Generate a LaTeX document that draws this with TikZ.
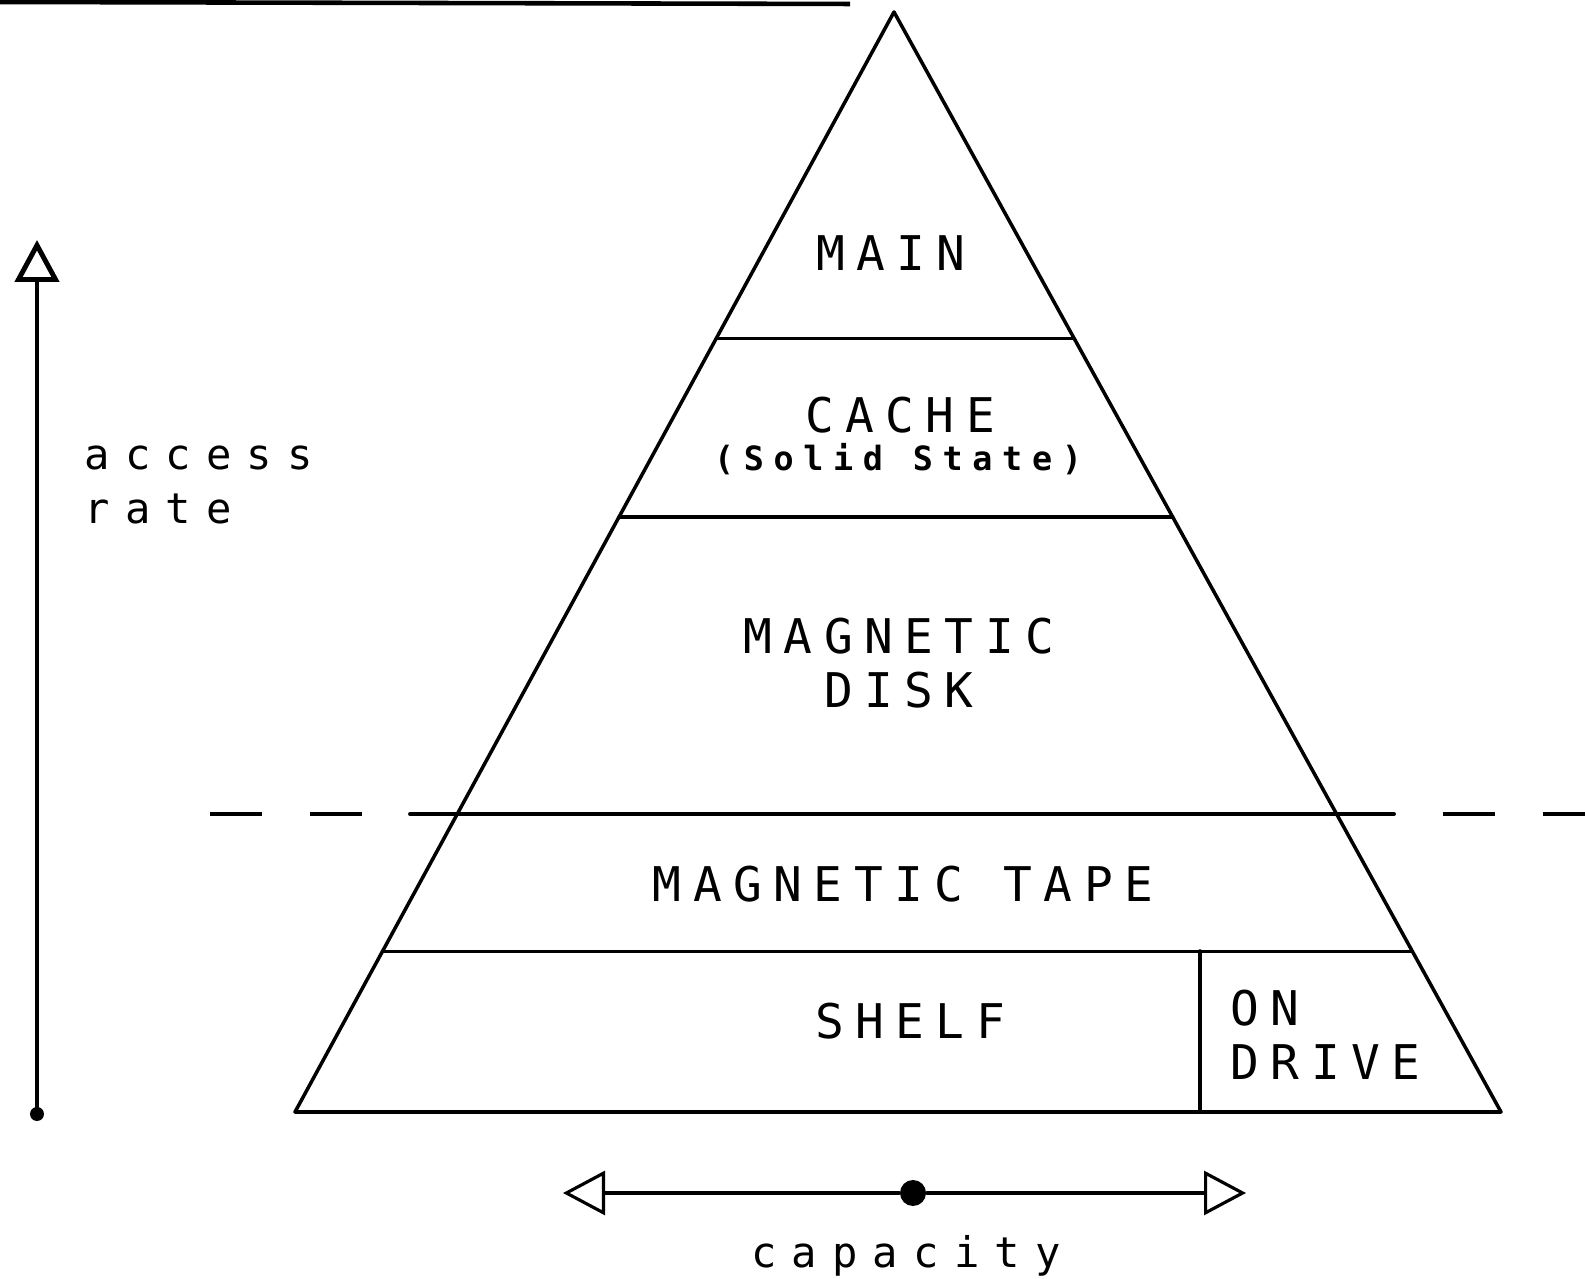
\documentclass[tikz,border=0pt]{standalone}
\usepackage{fontspec}
\newfontfamily\plotcaps[LetterSpace=24]{DejaVu Sans Mono}
\newfontfamily\plotlower[LetterSpace=36]{DejaVu Sans Mono}
\newfontfamily\plotnote[LetterSpace=29]{DejaVu Sans Mono}
\usetikzlibrary{arrows.meta,calc}

\begin{document}
\begin{tikzpicture}[>={Triangle[open,length=0.42cm,width=0.44cm]}, line cap=round, line join=round,
    level/.style={font=\plotcaps\fontsize{13.6}{15.3}\selectfont, inner sep=0pt},
    note/.style={font=\plotnote\bfseries\fontsize{9.5}{11}\selectfont, inner sep=0pt},
    axislabel/.style={font=\plotlower\fontsize{12}{14}\selectfont, inner sep=0pt, anchor=base west}]

\useasboundingbox (0,0) rectangle (15.85,12.79);

% rule at the top edge
\draw[line width=1.3pt, line cap=butt] (0,12.77) -- (8.50,12.75);

% pyramid
\coordinate (apex) at (8.94,12.67);
\coordinate (bl) at (2.95,1.67);
\coordinate (br) at (15.01,1.67);
\draw[line width=1pt] (apex) -- (bl) -- (br) -- cycle;
\draw[line width=1pt] ($(apex)!0.297!(bl)$) -- ($(apex)!0.297!(br)$);
\draw[line width=1pt] ($(apex)!0.459!(bl)$) -- ($(apex)!0.459!(br)$);
\draw[line width=1pt] ($(apex)!0.854!(bl)$) -- ($(apex)!0.854!(br)$);
\draw[line width=1pt] (12.00,3.28) -- (12.00,1.67);

% on-line / off-line boundary
\draw[line width=1.1pt, line cap=butt, dash pattern=on 0.52cm off 0.48cm] (2.10,4.65) -- (4.10,4.65);
\draw[line width=1.1pt] (4.10,4.65) -- (13.94,4.65);
\draw[line width=1.1pt, line cap=butt, dash pattern=on 0.52cm off 0.48cm] (14.43,4.65) -- (15.85,4.65);

% tiers
\node[level] (main) at (8.91,10.26) {MAIN};
\node[level] (cache) at (9.00,8.64) {CACHE};
\node[note] (solid) at (8.98,8.20) {(Solid State)};
\node[level, align=center] (disk) at (8.99,6.16) {MAGNETIC\\DISK};
\node[level] (tape) at (9.03,3.95) {MAGNETIC TAPE};
\node[level] (shelf) at (9.10,2.58) {SHELF};
\node[level, align=left, anchor=west] (drive) at (12.30,2.44) {ON\\DRIVE};

% access rate
\coordinate (rbot) at (0.37,1.65);
\coordinate (rtop) at (0.37,10.39);
\fill (rbot) circle (0.07);
\draw[->, line width=1.4pt] (rbot) -- (rtop);
\node[axislabel] (access) at (0.84,8.09) {access};
\node[axislabel] (rate) at (0.84,7.55) {rate};

% capacity
\node[circle, fill, inner sep=0pt, minimum size=0.26cm] (cap) at (9.13,0.86) {};
\coordinate (capl) at (5.63,0.86);
\coordinate (capr) at (12.46,0.86);
\draw[->, line width=0.9pt] (cap) -- (capl);
\draw[->, line width=0.9pt] (cap) -- (capr);
\node[axislabel, anchor=base] (capacity) at (9.06,0.12) {capacity};

\end{tikzpicture}
\end{document}
